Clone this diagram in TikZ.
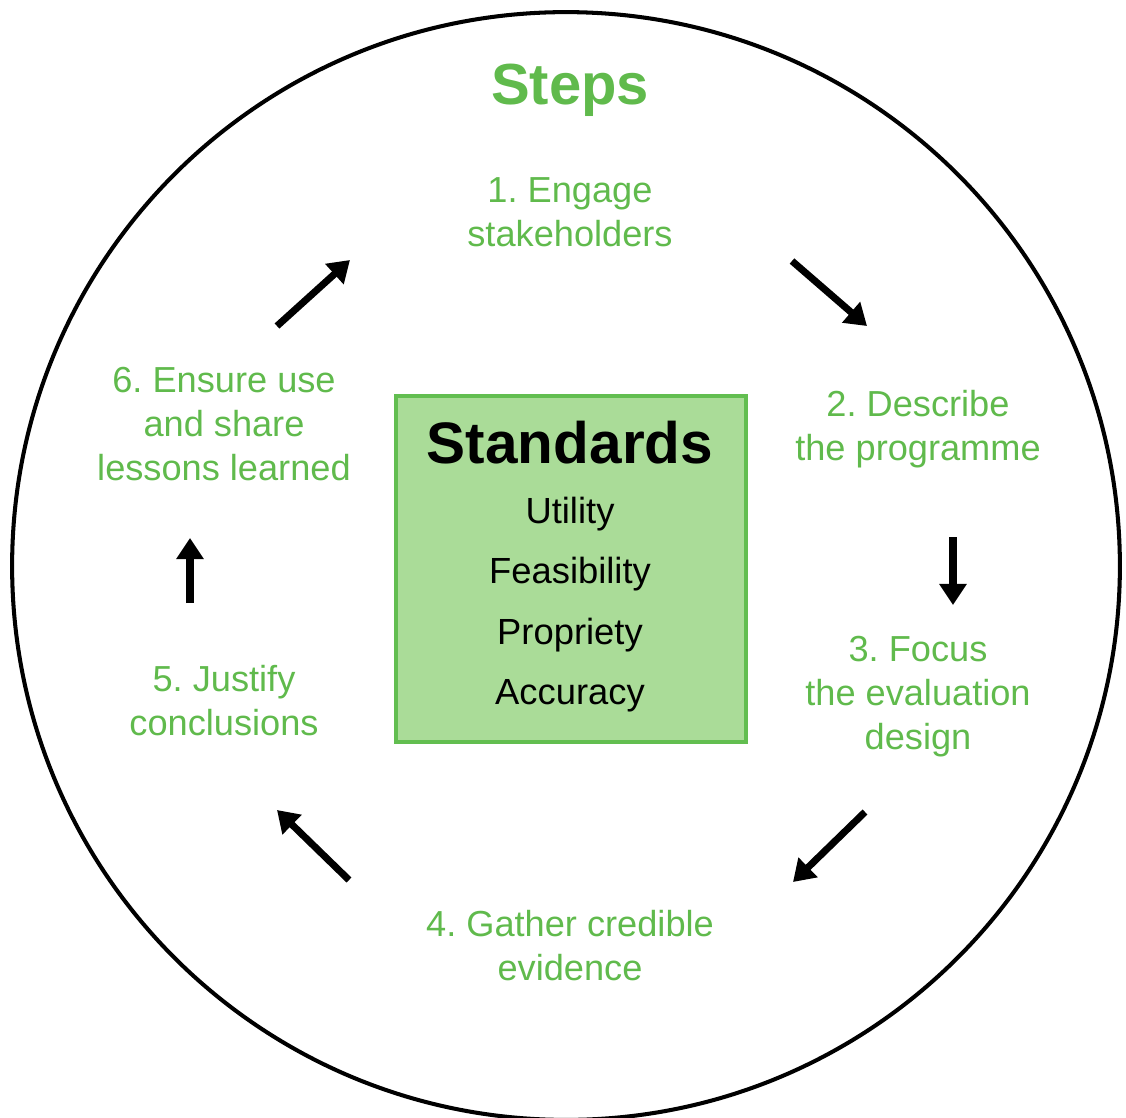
\documentclass[tikz,border=0pt]{standalone}
\usepackage{fontspec}
\setmainfont{Liberation Sans}
\frenchspacing
\usetikzlibrary{arrows.meta}
\definecolor{stepgreen}{RGB}{96,186,76}
\definecolor{boxfill}{RGB}{170,220,152}
\definecolor{boxline}{RGB}{98,190,80}
\tikzset{
	steptext/.style={text=stepgreen, align=center, font=\fontsize{20.6}{25}\selectfont},
	stdtext/.style={font=\fontsize{20.7}{25}\selectfont},
	cyclearrow/.style={line width=4pt, -{Triangle[length=12pt,width=15pt]}},
}
\begin{document}
\begin{tikzpicture}[x=0.02cm, y=-0.02cm]
		\useasboundingbox (0,0) rectangle (1126,1117);
		\draw[line width=2.3pt] (566,566) circle[radius=11.08cm];
		\node[text=stepgreen, font=\bfseries\fontsize{33}{38}\selectfont] (title) at (570,90) {Steps};
		% the six steps
		\node[steptext] (s1) at (570,212) {1. Engage\\stakeholders};
		\node[steptext] (s2) at (918,429) {2. Describe\\the programme};
		\node[steptext] (s3) at (918,697) {3. Focus\\the evaluation\\design};
		\node[steptext] (s4) at (570,946) {4. Gather credible\\evidence};
		\node[steptext] (s5) at (224,701) {5. Justify\\conclusions};
		\node[steptext] (s6) at (224,424) {6. Ensure use\\and share\\lessons learned};
		% standards box
		\draw[fill=boxfill, draw=boxline, line width=2pt] (396,396) rectangle (746,742);
		\node[font=\bfseries\fontsize{33.3}{38}\selectfont] (std) at (570,443) {Standards};
		\node[stdtext] (u) at (570,514) {Utility};
		\node[stdtext] (f) at (570,574) {Feasibility};
		\node[stdtext] (p) at (570,635) {Propriety};
		\node[stdtext] (a) at (570,696) {Accuracy};
		% arrows
		\coordinate (A1) at (277,326);
		\coordinate (B1) at (350,260);
		\coordinate (A2) at (792,261);
		\coordinate (B2) at (867,326);
		\coordinate (A3) at (953,537);
		\coordinate (B3) at (953,605);
		\coordinate (A4) at (865,812);
		\coordinate (B4) at (793,882);
		\coordinate (A5) at (349,880);
		\coordinate (B5) at (277,810);
		\coordinate (A6) at (190,603);
		\coordinate (B6) at (190,538);
		\draw[cyclearrow] (A1) -- (B1);
		\draw[cyclearrow] (A2) -- (B2);
		\draw[cyclearrow] (A3) -- (B3);
		\draw[cyclearrow] (A4) -- (B4);
		\draw[cyclearrow] (A5) -- (B5);
		\draw[cyclearrow] (A6) -- (B6);
\end{tikzpicture}
\end{document}
